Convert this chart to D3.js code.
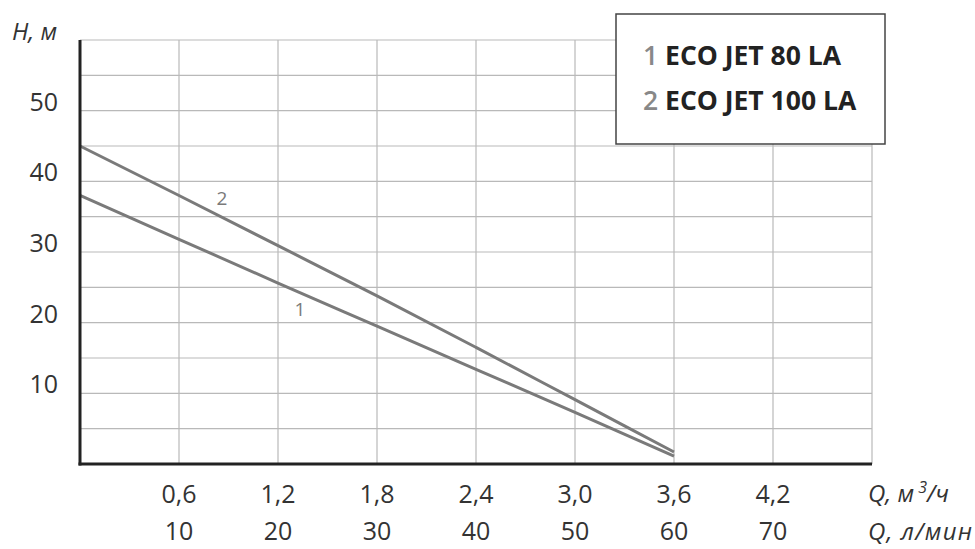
<!DOCTYPE html>
<html>
<head>
<meta charset="utf-8">
<script src="https://cdn.jsdelivr.net/npm/d3@7"></script>
<style>
  body { margin: 0; background: #fff; }
  text { font-family: "Open Sans", sans-serif; }
</style>
</head>
<body>
<svg id="chart"></svg>
<script>
// flow Q, m3/h and head H, m
const qValues = [0, 0.6, 1.2, 1.8, 2.4, 3.0, 3.6];
const head80 = [38, 31.8, 25.6, 19.5, 13.4, 7.3, 1.1];
const head100 = [45, 38.0, 30.9, 23.8, 16.5, 9.1, 1.7];
const qTicks = [0.6, 1.2, 1.8, 2.4, 3.0, 3.6, 4.2];
const lminTicks = [10, 20, 30, 40, 50, 60, 70];
const hTicks = [10, 20, 30, 40, 50];
const models = ["ECO JET 80 LA", "ECO JET 100 LA"];

const width = 975, height = 549;
const svg = d3.select("#chart").attr("width", width).attr("height", height);

let x = d3.scaleLinear().domain([0, 4.8]).range([80, 872]);
let y = d3.scaleLinear().domain([0, 60]).range([464, 40]);

// grid
let grid = svg.append("g").attr("stroke", "#b9b9b9").attr("stroke-width", 1.2);
grid.selectAll("line.h")
    .data(d3.range(5, 61, 5))
    .join("line")
    .attr("x1", x(0)).attr("x2", x(4.8))
    .attr("y1", d => y(d)).attr("y2", d => y(d));
grid.selectAll("line.v")
    .data(d3.range(1, 9).map(i => i * 0.6))
    .join("line")
    .attr("y1", y(0)).attr("y2", y(60))
    .attr("x1", d => x(d)).attr("x2", d => x(d));

// curves
let line = d3.line().curve(d3.curveMonotoneX).x(d => x(d[0])).y(d => y(d[1]));
[head80, head100].forEach(h => {
    svg.append("path")
        .datum(qValues.map((q, i) => [q, h[i]]))
        .attr("fill", "none")
        .attr("stroke", "#7a7a7a")
        .attr("stroke-width", 3)
        .attr("d", line);
});

// curve labels
svg.append("text").attr("x", x(0.86)).attr("y", y(36.65))
    .attr("font-size", 19).attr("fill", "#7a7a7a").attr("text-anchor", "middle").text("2");
svg.append("text").attr("x", x(1.333)).attr("y", y(20.9))
    .attr("font-size", 19).attr("fill", "#7a7a7a").attr("text-anchor", "middle").text("1");

// axes
svg.append("line").attr("x1", x(0)).attr("x2", x(0)).attr("y1", y(60)).attr("y2", y(0) + 1.5)
    .attr("stroke", "#222").attr("stroke-width", 3);
svg.append("line").attr("x1", x(0) - 1.5).attr("x2", x(4.8)).attr("y1", y(0)).attr("y2", y(0))
    .attr("stroke", "#222").attr("stroke-width", 3);

// tick labels
svg.selectAll("text.h")
    .data(hTicks)
    .join("text")
    .attr("x", 58).attr("y", d => y(d))
    .attr("text-anchor", "end")
    .attr("font-size", 25).attr("fill", "#333")
    .text(d => d);
svg.selectAll("text.q")
    .data(qTicks)
    .join("text")
    .attr("x", d => x(d)).attr("y", 503)
    .attr("text-anchor", "middle")
    .attr("font-size", 25).attr("fill", "#333")
    .text(d => d.toFixed(1).replace(".", ","));
svg.selectAll("text.l")
    .data(lminTicks)
    .join("text")
    .attr("x", (d, i) => x(qTicks[i])).attr("y", 540)
    .attr("text-anchor", "middle")
    .attr("font-size", 25).attr("fill", "#333")
    .text(d => d);

// units
svg.append("text").attr("x", 12).attr("y", 40)
    .attr("font-size", 24).attr("font-style", "italic").attr("fill", "#333").text("H, м");
let qu = svg.append("text").attr("x", 868).attr("y", 502)
    .attr("font-size", 24).attr("font-style", "italic").attr("fill", "#333");
qu.append("tspan").text("Q, м");
qu.append("tspan").attr("font-size", 16).attr("dy", -9).text(" 3");
qu.append("tspan").attr("dy", 9).text("/ч");
svg.append("text").attr("x", 868).attr("y", 540)
    .attr("font-size", 24).attr("font-style", "italic").attr("fill", "#333")
    .attr("textLength", 104).text("Q, л/мин");

// legend
let lg = svg.append("g");
lg.append("rect").attr("x", 616).attr("y", 14).attr("width", 269).attr("height", 130)
    .attr("fill", "#fff").attr("stroke", "#444").attr("stroke-width", 1.5);
models.forEach((m, i) => {
    let t = lg.append("text").attr("x", 643).attr("y", 65 + i * 45)
        .attr("font-size", 26.5).attr("font-weight", "bold");
    t.append("tspan").attr("fill", "#888").attr("font-weight", "600").text((i + 1) + " ");
    t.append("tspan").attr("fill", "#222").text(m);
});
</script>
</body>
</html>
